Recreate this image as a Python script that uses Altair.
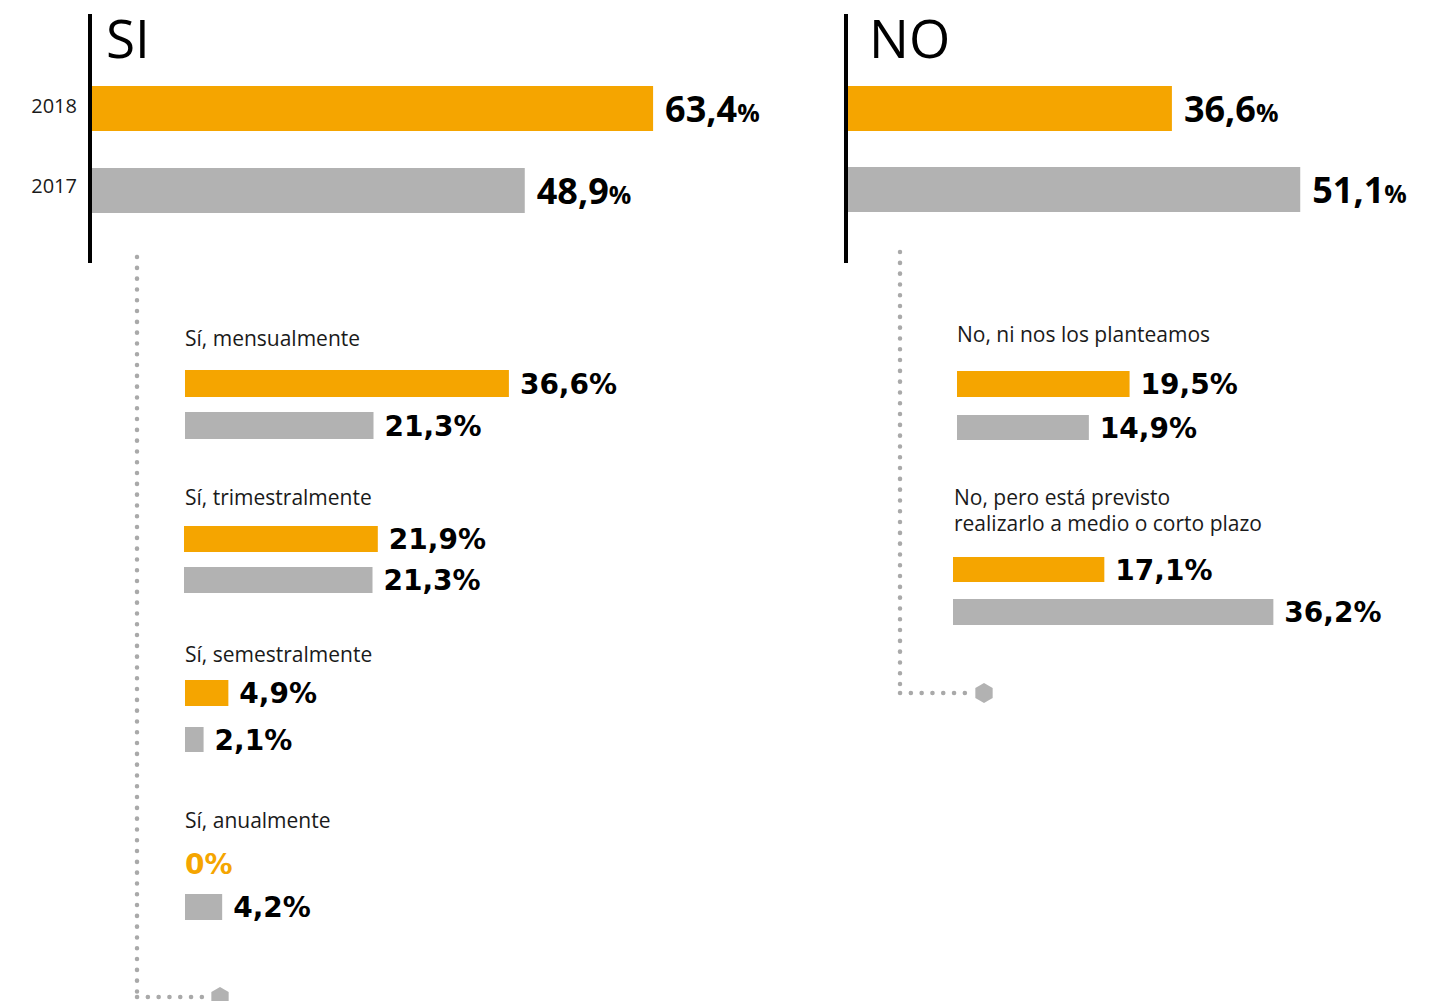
import altair as alt
import pandas as pd

# ---------------- data ----------------
years = ["2018", "2017"]
headers = ["SI", "NO"]
si_total = [63.4, 48.9]          # 2018, 2017
no_total = [36.6, 51.1]          # 2018, 2017

si_freq = ["Sí, mensualmente", "Sí, trimestralmente", "Sí, semestralmente", "Sí, anualmente"]
si_2018 = [36.6, 21.9, 4.9, 0.0]
si_2017 = [21.3, 21.3, 2.1, 4.2]

no_reasons = ["No, ni nos los planteamos",
              "No, pero está previsto\nrealizarlo a medio o corto plazo"]
no_2018 = [19.5, 17.1]
no_2017 = [14.9, 36.2]

# ---------------- layout (pixels) ----------------
W, H = 1446, 1001
K = 8.85                      # pixels per percentage point
ORANGE, GRAY, DOT, INK = "#F5A500", "#B2B2B2", "#A9A9A9", "#1a1a1a"

top_origin = {"SI": 92, "NO": 848}
top_rows = {"SI": [(86, 131), (168, 213)], "NO": [(86, 131), (167, 212)]}
header_pos = {"SI": (106, 58), "NO": (869, 58)}
year_label_x = 77
year_label_base = [113, 193]

si_origin = [185, 184, 185, 185]
si_rows = [[(370, 397), (412, 439)], [(526, 552), (567, 593)],
           [(680, 706), (727, 752)], [(851, 877), (894, 920)]]
si_label_base = [346, 505, 662, 828]
no_origin = [957, 953]
no_rows = [[(371, 397), (415, 440)], [(557, 582), (599, 625)]]
no_label_base = [342, 505]
label_x_si, label_x_no = [185] * 4, [957, 954]


def fmt(v):
    return "0" if v == 0 else f"{v:.1f}".replace(".", ",")


def osb_width(s, size):
    # approximate advance width of Open Sans Bold text
    w = sum(0.286 if c == "," else 0.572 for c in s)
    return w * size


bars = []
for h, vals in (("SI", si_total), ("NO", no_total)):
    for i, (yr, v) in enumerate(zip(years, vals)):
        t, b = top_rows[h][i]
        bars.append(dict(kind="top", year=yr, value=v, x0=top_origin[h] / K,
                         yt=t, yb=b, num=fmt(v),
                         numw=osb_width(fmt(v), 36)))
for cats, v18, v17, orig, rows in ((si_freq, si_2018, si_2017, si_origin, si_rows),
                                   (no_reasons, no_2018, no_2017, no_origin, no_rows)):
    for j in range(len(cats)):
        for i, (yr, v) in enumerate(zip(years, (v18[j], v17[j]))):
            t, b = rows[j][i]
            bars.append(dict(kind="sub", year=yr, value=v, x0=orig[j] / K,
                             yt=t, yb=b, num=fmt(v) + "%", numw=0))
bars = pd.DataFrame(bars)
bars["ymid"] = (bars["yt"] + bars["yb"]) / 2

xs = alt.Scale(domain=[0, W / K], range=[0, W], nice=False, zero=False)
ys = alt.Scale(domain=[0, H], range=[0, H], nice=False, zero=False)
col = alt.Color("year:N", scale=alt.Scale(domain=years, range=[ORANGE, GRAY]), legend=None)

base = alt.Chart(bars).transform_calculate(x1="datum.x0 + datum.value")

bar_layer = base.mark_bar().encode(
    x=alt.X("x0:Q", scale=xs, axis=None), x2="x1:Q",
    y=alt.Y("yt:Q", scale=ys, axis=None), y2="yb:Q", color=col)

top_num = base.transform_filter("datum.kind == 'top'").transform_calculate(
    lx=f"datum.x1 + 12/{K}", ly="datum.ymid + 13"
).mark_text(align="left", baseline="alphabetic", font="Open Sans", fontWeight="bold",
            fontSize=36, color="black").encode(
    x=alt.X("lx:Q", scale=xs, axis=None), y=alt.Y("ly:Q", scale=ys, axis=None), text="num:N")

top_pct = base.transform_filter("datum.kind == 'top'").transform_calculate(
    lx=f"datum.x1 + (12 + datum.numw)/{K}", ly="datum.ymid + 13", pct="'%'"
).mark_text(align="left", baseline="alphabetic", font="Open Sans", fontWeight="bold",
            fontSize=25, color="black").encode(
    x=alt.X("lx:Q", scale=xs, axis=None), y=alt.Y("ly:Q", scale=ys, axis=None), text="pct:N")

sub_num = base.transform_filter("datum.kind == 'sub'").transform_calculate(
    lx=f"datum.value > 0 ? datum.x1 + 11/{K} : datum.x1", ly="datum.ymid + 10",
    tc=f"datum.value > 0 ? 'black' : '{ORANGE}'"
).mark_text(align="left", baseline="alphabetic", font="DejaVu Sans", fontWeight="bold",
            fontSize=28).encode(
    x=alt.X("lx:Q", scale=xs, axis=None), y=alt.Y("ly:Q", scale=ys, axis=None),
    text="num:N", color=alt.Color("tc:N", scale=None))

# category labels
labels = pd.DataFrame(
    [dict(t=c, x=lx / K, y=yb) for c, lx, yb in zip(si_freq, label_x_si, si_label_base)] +
    [dict(t=c, x=lx / K, y=yb) for c, lx, yb in zip(no_reasons, label_x_no, no_label_base)])
label_layer = alt.Chart(labels).mark_text(
    align="left", baseline="alphabetic", font="Open Sans", fontSize=21, color=INK,
    lineBreak="\n", lineHeight=26).encode(
    x=alt.X("x:Q", scale=xs, axis=None), y=alt.Y("y:Q", scale=ys, axis=None), text="t:N")

years_df = pd.DataFrame(dict(t=years, x=[year_label_x / K] * 2, y=year_label_base))
year_layer = alt.Chart(years_df).mark_text(
    align="right", baseline="alphabetic", font="Open Sans", fontSize=20, color=INK).encode(
    x=alt.X("x:Q", scale=xs, axis=None), y=alt.Y("y:Q", scale=ys, axis=None), text="t:N")

head_df = pd.DataFrame(dict(t=headers, x=[header_pos[h][0] / K for h in headers],
                            y=[header_pos[h][1] for h in headers]))
head_layer = alt.Chart(head_df).mark_text(
    align="left", baseline="alphabetic", font="Open Sans", fontSize=53, color="black").encode(
    x=alt.X("x:Q", scale=xs, axis=None), y=alt.Y("y:Q", scale=ys, axis=None), text="t:N")

# black vertical axes
axes_df = pd.DataFrame(dict(x=[90 / K, 846 / K], y1=[14, 14], y2=[263, 263]))
axis_layer = alt.Chart(axes_df).mark_rule(color="black", strokeWidth=4).encode(
    x=alt.X("x:Q", scale=xs, axis=None), y=alt.Y("y1:Q", scale=ys, axis=None), y2="y2:Q")

# dotted connectors
vdots = pd.DataFrame(dict(x=[137 / K, 900 / K], y1=[257, 252], y2=[997, 693]))
hdots = pd.DataFrame(dict(x1=[137 / K, 900 / K], x2=[212 / K, 975 / K], y=[997, 693]))
dot_style = dict(color=DOT, strokeWidth=4.5, strokeDash=[0.1, 10.7], strokeCap="round")
vdot_layer = alt.Chart(vdots).mark_rule(**dot_style).encode(
    x=alt.X("x:Q", scale=xs, axis=None), y=alt.Y("y1:Q", scale=ys, axis=None), y2="y2:Q")
hdot_layer = alt.Chart(hdots).mark_rule(**dot_style).encode(
    x=alt.X("x1:Q", scale=xs, axis=None), x2="x2:Q", y=alt.Y("y:Q", scale=ys, axis=None))

hexes = pd.DataFrame(dict(x=[220 / K, 984 / K], y=[997, 693]))
hex_path = "M0,-1L0.866,-0.5L0.866,0.5L0,1L-0.866,0.5L-0.866,-0.5Z"
hex_layer = alt.Chart(hexes).mark_point(shape=hex_path, filled=True, color=GRAY,
                                        size=400, opacity=1).encode(
    x=alt.X("x:Q", scale=xs, axis=None), y=alt.Y("y:Q", scale=ys, axis=None))

chart = alt.layer(
    vdot_layer, hdot_layer, hex_layer, axis_layer, bar_layer, top_num, top_pct, sub_num,
    label_layer, year_layer, head_layer
).properties(
    width=W, height=H, autosize=alt.AutoSizeParams(type="none"), padding=0,
    background="white"
).configure_view(stroke=None)

chart.save("out.html", embed_options={"renderer": "svg", "actions": False})
